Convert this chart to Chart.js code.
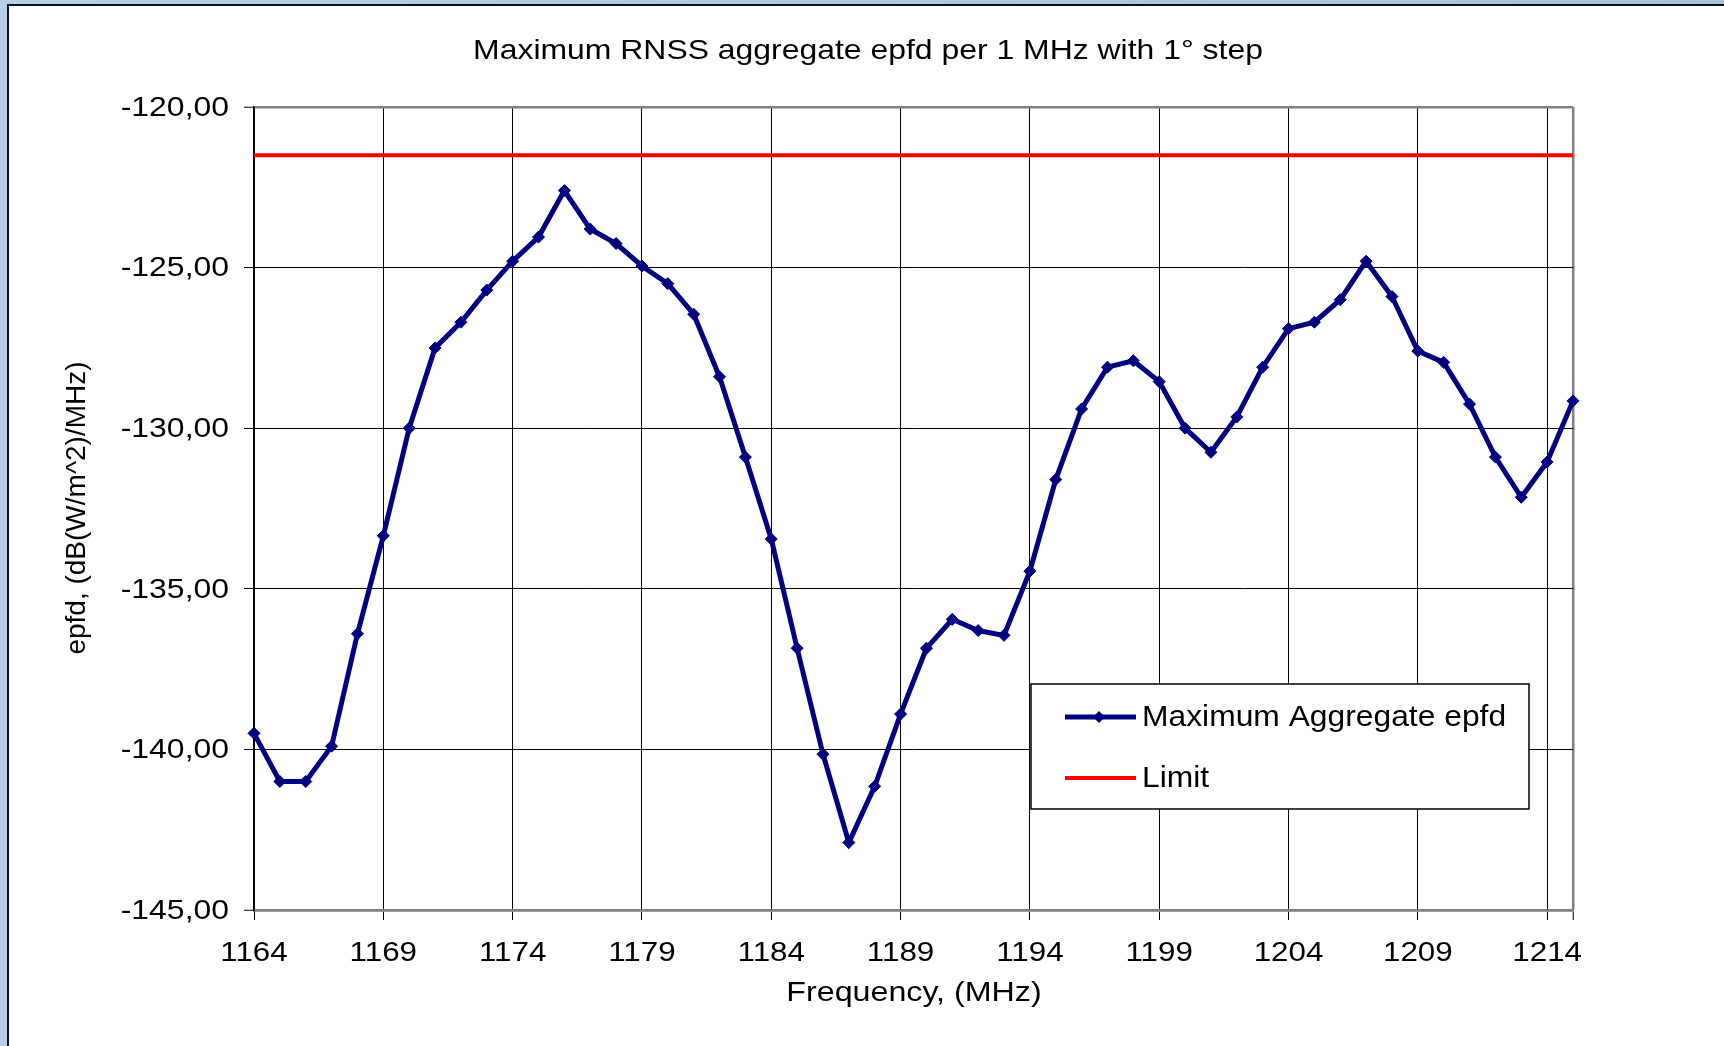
<!DOCTYPE html>
<html><head><meta charset="utf-8">
<script src="https://cdn.jsdelivr.net/npm/chart.js@4/dist/chart.umd.min.js"></script>
<style>html,body{margin:0;padding:0;background:#b3c8e2;overflow:hidden}
#wrap{position:absolute;left:0;top:0;width:1724px;height:1046px}</style>
</head><body><div id="wrap"><canvas id="c" width="1724" height="1046"></canvas></div>
<script>
const chartTitle = 'Maximum RNSS aggregate epfd per 1 MHz with 1° step';
const xTitle = 'Frequency, (MHz)';
const yTitle = 'epfd, (dB(W/m^2)/MHz)';
const seriesNames = ['Maximum Aggregate epfd', 'Limit'];
const frequencies = [1164,1165,1166,1167,1168,1169,1170,1171,1172,1173,1174,1175,1176,1177,1178,1179,1180,1181,1182,1183,1184,1185,1186,1187,1188,1189,1190,1191,1192,1193,1194,1195,1196,1197,1198,1199,1200,1201,1202,1203,1204,1205,1206,1207,1208,1209,1210,1211,1212,1213,1214,1215];
const epfd = [-139.5,-141.0,-141.0,-139.9,-136.4,-133.35,-130.0,-127.5,-126.7,-125.7,-124.8,-124.05,-122.6,-123.8,-124.25,-124.95,-125.5,-126.45,-128.4,-130.9,-133.45,-136.85,-140.15,-142.9,-141.15,-138.9,-136.85,-135.95,-136.3,-136.45,-134.45,-131.6,-129.4,-128.1,-127.9,-128.55,-130.0,-130.75,-129.65,-128.1,-126.9,-126.7,-126.0,-124.8,-125.9,-127.6,-127.95,-129.25,-130.9,-132.15,-131.05,-129.15];
const limit = [-121.5,-121.5,-121.5,-121.5,-121.5,-121.5,-121.5,-121.5,-121.5,-121.5,-121.5,-121.5,-121.5,-121.5,-121.5,-121.5,-121.5,-121.5,-121.5,-121.5,-121.5,-121.5,-121.5,-121.5,-121.5,-121.5,-121.5,-121.5,-121.5,-121.5,-121.5,-121.5,-121.5,-121.5,-121.5,-121.5,-121.5,-121.5,-121.5,-121.5,-121.5,-121.5,-121.5,-121.5,-121.5,-121.5,-121.5,-121.5,-121.5,-121.5,-121.5,-121.5];
const xTicks = [1164,1169,1174,1179,1184,1189,1194,1199,1204,1209,1214,1215];
const xTickLabels = [1164,1169,1174,1179,1184,1189,1194,1199,1204,1209,1214];
const yTicks = [-145,-140,-135,-130,-125,-120];

const FONT = "'Liberation Sans', Arial, sans-serif";
const NAVY = '#000080', RED = '#ff0000';

function wideText(ctx, text, x, y, size, sx, align) {
  ctx.save();
  ctx.font = size + 'px ' + FONT;
  ctx.textAlign = align || 'center'; ctx.textBaseline = 'middle';
  ctx.translate(x, y); ctx.scale(sx, 1);
  ctx.fillText(text, 0, 0);
  ctx.restore();
}

const frame = {
  id: 'frame',
  beforeDraw(chart) {
    const ctx = chart.ctx, W = chart.width, H = chart.height;
    ctx.save();
    const g = ctx.createLinearGradient(0, 0, W, 0);
    g.addColorStop(0, '#b9cde6'); g.addColorStop(1, '#a9bfdb');
    ctx.fillStyle = g; ctx.fillRect(0, 0, W, H);
    ctx.fillStyle = '#ffffff'; ctx.fillRect(9, 6, W - 9, H - 6);
    ctx.strokeStyle = '#111'; ctx.lineWidth = 2;
    ctx.beginPath(); ctx.moveTo(8, H); ctx.lineTo(8, 5); ctx.lineTo(W, 5); ctx.stroke();
    ctx.restore();
  },
  afterDraw(chart) {
    const ctx = chart.ctx, xs = chart.scales.x, ys = chart.scales.y;
    ctx.save();
    ctx.fillStyle = '#000';
    wideText(ctx, chartTitle, 868, 51, 28, 1.14, 'center');
    wideText(ctx, xTitle, 914, 993, 28, 1.15, 'center');
    xTickLabels.forEach(v => wideText(ctx, String(v), xs.getPixelForValue(v), 953, 28, 1.12, 'center'));
    yTicks.forEach(v => wideText(ctx, v.toFixed(2).replace('.', ','), 229, ys.getPixelForValue(v) + 1, 28, 1.14, 'right'));
    ctx.font = '28px ' + FONT;
    ctx.textAlign = 'center'; ctx.textBaseline = 'middle';
    ctx.translate(77, 508); ctx.rotate(-Math.PI / 2);
    ctx.fillText(yTitle, 0, 0);
    ctx.restore();
  }
};

const legendBox = {
  id: 'legendBox',
  afterDatasetsDraw(chart) {
    const ctx = chart.ctx;
    const x0 = 1031, y0 = 684, x1 = 1529, y1 = 809;
    ctx.save();
    ctx.fillStyle = '#fff'; ctx.fillRect(x0, y0, x1 - x0, y1 - y0);
    ctx.strokeStyle = '#000'; ctx.lineWidth = 1.5; ctx.strokeRect(x0, y0, x1 - x0, y1 - y0);
    const rows = [717, 778];
    chart.data.datasets.forEach((ds, i) => {
      const y = rows[i];
      ctx.strokeStyle = ds.borderColor; ctx.lineWidth = ds.borderWidth;
      ctx.beginPath(); ctx.moveTo(1065, y); ctx.lineTo(1136, y); ctx.stroke();
      if (ds.pointRadius > 0) {
        ctx.fillStyle = ds.borderColor;
        const r = ds.pointRadius, cx = 1099;
        ctx.beginPath(); ctx.moveTo(cx, y - r); ctx.lineTo(cx + r, y); ctx.lineTo(cx, y + r); ctx.lineTo(cx - r, y); ctx.closePath(); ctx.fill();
      }
      ctx.fillStyle = '#000';
      wideText(ctx, ds.label, 1142, y + 1, 30, 1.06, 'left');
    });
    ctx.restore();
  }
};

new Chart(document.getElementById('c'), {
  type: 'line',
  data: {
    labels: frequencies,
    datasets: [
      { label: seriesNames[0], data: frequencies.map((f, i) => ({x: f, y: epfd[i]})), clip: 8,
        borderColor: NAVY, backgroundColor: NAVY, borderWidth: 5, tension: 0,
        pointStyle: 'rectRot', pointRadius: 6, pointBackgroundColor: NAVY, pointBorderColor: NAVY, pointBorderWidth: 1 },
      { label: seriesNames[1], data: frequencies.map((f, i) => ({x: f, y: limit[i]})),
        borderColor: RED, backgroundColor: RED, borderWidth: 4, tension: 0, pointRadius: 0 }
    ]
  },
  options: {
    responsive: false, animation: false, devicePixelRatio: 1,
    layout: { padding: { left: 0, top: 107, right: 151, bottom: 0 } },
    plugins: { legend: { display: false }, title: { display: false }, tooltip: { enabled: false } },
    scales: {
      x: {
        type: 'linear', min: 1164, max: 1215,
        afterBuildTicks: s => { s.ticks = xTicks.map(v => ({ value: v })); },
        afterFit: s => { s.height = 136; },
        ticks: { display: false },
        grid: {
          color: c => (c.tick && c.tick.value === 1215 ? '#808080' : '#000'),
          lineWidth: c => (c.tick && c.tick.value === 1215 ? 2.5 : 1),
          tickColor: '#000', tickLength: 10, tickWidth: 1, drawTicks: true
        },
        border: { color: '#808080', width: 2.5 }
      },
      y: {
        min: -145, max: -120,
        afterBuildTicks: s => { s.ticks = yTicks.map(v => ({ value: v })); },
        afterFit: s => { s.width = 254; },
        ticks: { display: false },
        grid: {
          color: c => (c.tick && (c.tick.value === -120 || c.tick.value === -145) ? '#808080' : '#000'),
          lineWidth: c => (c.tick && (c.tick.value === -120 || c.tick.value === -145) ? 2.5 : 1),
          tickColor: '#000', tickLength: 10, tickWidth: 1, drawTicks: true
        },
        border: { color: '#000', width: 1.5 }
      }
    }
  },
  plugins: [frame, legendBox]
});
</script></body></html>
